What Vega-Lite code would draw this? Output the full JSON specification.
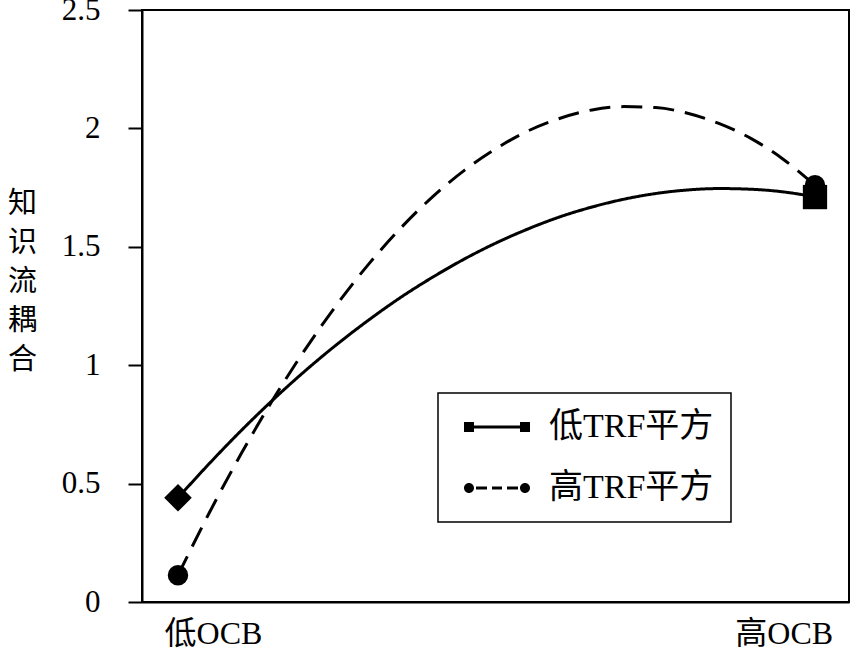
{
  "$schema": "https://vega.github.io/schema/vega-lite/v6.json",
  "width": 707,
  "height": 592,
  "autosize": "none",
  "padding": {"left": 142, "top": 10, "right": 3, "bottom": 48},
  "background": "white",
  "config": {
    "font": "Liberation Serif, Noto Sans CJK SC",
    "view": {"stroke": "black", "strokeWidth": 2},
    "legend": {"strokeColor": "black", "strokeWidth": 1.5},
    "axis": {
      "grid": false,
      "domainColor": "black",
      "domainWidth": 2,
      "labelColor": "black",
      "labelFont": "Liberation Serif, Noto Sans CJK SC",
      "labelFontSize": 31,
      "tickColor": "black",
      "tickWidth": 2,
      "titleColor": "black",
      "titleFont": "Liberation Serif, Noto Sans CJK SC",
      "titleFontWeight": "normal"
    }
  },
  "datasets": {
    "curves": [
      {"series": "低TRF平方", "t": 0.00, "value": 0.440},
      {"series": "低TRF平方", "t": 0.05, "value": 0.587},
      {"series": "低TRF平方", "t": 0.10, "value": 0.726},
      {"series": "低TRF平方", "t": 0.15, "value": 0.856},
      {"series": "低TRF平方", "t": 0.20, "value": 0.977},
      {"series": "低TRF平方", "t": 0.25, "value": 1.089},
      {"series": "低TRF平方", "t": 0.30, "value": 1.192},
      {"series": "低TRF平方", "t": 0.35, "value": 1.287},
      {"series": "低TRF平方", "t": 0.40, "value": 1.372},
      {"series": "低TRF平方", "t": 0.45, "value": 1.449},
      {"series": "低TRF平方", "t": 0.50, "value": 1.517},
      {"series": "低TRF平方", "t": 0.55, "value": 1.576},
      {"series": "低TRF平方", "t": 0.60, "value": 1.627},
      {"series": "低TRF平方", "t": 0.65, "value": 1.668},
      {"series": "低TRF平方", "t": 0.70, "value": 1.701},
      {"series": "低TRF平方", "t": 0.75, "value": 1.725},
      {"series": "低TRF平方", "t": 0.80, "value": 1.740},
      {"series": "低TRF平方", "t": 0.85, "value": 1.746},
      {"series": "低TRF平方", "t": 0.90, "value": 1.743},
      {"series": "低TRF平方", "t": 0.95, "value": 1.732},
      {"series": "低TRF平方", "t": 1.00, "value": 1.711},
      {"series": "高TRF平方", "t": 0.00, "value": 0.113},
      {"series": "高TRF平方", "t": 0.05, "value": 0.381},
      {"series": "高TRF平方", "t": 0.10, "value": 0.630},
      {"series": "高TRF平方", "t": 0.15, "value": 0.859},
      {"series": "高TRF平方", "t": 0.20, "value": 1.068},
      {"series": "高TRF平方", "t": 0.25, "value": 1.258},
      {"series": "高TRF平方", "t": 0.30, "value": 1.429},
      {"series": "高TRF平方", "t": 0.35, "value": 1.580},
      {"series": "高TRF平方", "t": 0.40, "value": 1.712},
      {"series": "高TRF平方", "t": 0.45, "value": 1.824},
      {"series": "高TRF平方", "t": 0.50, "value": 1.916},
      {"series": "高TRF平方", "t": 0.55, "value": 1.990},
      {"series": "高TRF平方", "t": 0.60, "value": 2.043},
      {"series": "高TRF平方", "t": 0.65, "value": 2.078},
      {"series": "高TRF平方", "t": 0.70, "value": 2.092},
      {"series": "高TRF平方", "t": 0.75, "value": 2.088},
      {"series": "高TRF平方", "t": 0.80, "value": 2.064},
      {"series": "高TRF平方", "t": 0.85, "value": 2.020},
      {"series": "高TRF平方", "t": 0.90, "value": 1.957},
      {"series": "高TRF平方", "t": 0.95, "value": 1.870},
      {"series": "高TRF平方", "t": 1.00, "value": 1.760}
    ],
    "markers": [
      {"series": "低TRF平方", "t": 0, "value": 0.44, "marker": "diamond"},
      {"series": "低TRF平方", "t": 1, "value": 1.71, "marker": "square"},
      {"series": "高TRF平方", "t": 0, "value": 0.113, "marker": "circle"},
      {"series": "高TRF平方", "t": 1, "value": 1.76, "marker": "circle"}
    ]
  },
  "encoding": {
    "x": {
      "field": "t",
      "type": "quantitative",
      "scale": {"domain": [-0.0565, 1.0534], "nice": false, "zero": false},
      "axis": {
        "values": [0.055, 0.951],
        "labelExpr": "datum.value < 0.5 ? '低OCB' : '高OCB'",
        "ticks": false,
        "labelFontSize": 32,
        "labelPadding": 16,
        "labelFlush": false,
        "labelOverlap": false,
        "title": null
      }
    },
    "y": {
      "field": "value",
      "type": "quantitative",
      "scale": {"domain": [0, 2.5], "nice": false, "zero": false},
      "axis": {
        "values": [0, 0.5, 1, 1.5, 2, 2.5],
        "labelExpr": "'' + datum.value",
        "tickSize": 14,
        "labelPadding": 28,
        "title": ["知", "识", "流", "耦", "合"],
        "titleAngle": 0,
        "titleFontSize": 29,
        "titleLineHeight": 39,
        "titleX": -120,
        "titleY": 193,
        "titleAlign": "center",
        "titleBaseline": "middle"
      }
    }
  },
  "resolve": {
    "scale": {"shape": "independent", "size": "independent"},
    "legend": {"shape": "independent"}
  },
  "layer": [
    {
      "data": {"name": "curves"},
      "mark": {"type": "line", "strokeWidth": 3, "interpolate": "monotone", "color": "black"},
      "encoding": {
        "detail": {"field": "series", "type": "nominal"},
        "strokeDash": {
          "field": "series",
          "type": "nominal",
          "scale": {"domain": ["低TRF平方", "高TRF平方"], "range": [[1, 0], [21, 11]]},
          "legend": null
        }
      }
    },
    {
      "data": {"name": "markers"},
      "mark": {"type": "point", "filled": true, "opacity": 1, "color": "black"},
      "encoding": {
        "shape": {
          "field": "marker",
          "type": "nominal",
          "scale": {"domain": ["diamond", "square", "circle"], "range": ["diamond", "square", "circle"]},
          "legend": null
        },
        "size": {
          "field": "marker",
          "type": "ordinal",
          "scale": {"domain": ["diamond", "square", "circle"], "range": [760, 420, 529]},
          "legend": null
        }
      }
    },
    {
      "data": {"name": "markers"},
      "mark": {"type": "point", "filled": true, "opacity": 0, "color": "black"},
      "encoding": {
        "shape": {
          "field": "series",
          "type": "nominal",
          "scale": {
            "domain": ["低TRF平方", "高TRF平方"],
            "range": [
              "M-0.533,-0.333L0.133,-0.333L0.133,-0.1L3.2,-0.1L3.2,-0.333L3.867,-0.333L3.867,0.333L3.2,0.333L3.2,0.1L0.133,0.1L0.133,0.333L-0.533,0.333Z",
              "M-0.533,0A0.333,0.333,0,1,0,0.133,0A0.333,0.333,0,1,0,-0.533,0ZM3.2,0A0.333,0.333,0,1,0,3.867,0A0.333,0.333,0,1,0,3.2,0ZM0.267,-0.1L1,-0.1L1,0.1L0.267,0.1ZM1.333,-0.1L2,-0.1L2,0.1L1.333,0.1ZM2.333,-0.1L3.067,-0.1L3.067,0.1L2.333,0.1Z"
            ]
          },
          "legend": {
            "title": null,
            "orient": "none",
            "legendX": 296,
            "legendY": 383,
            "strokeColor": "black",
            "fillColor": "white",
            "padding": 17,
            "labelFont": "Liberation Serif, Noto Sans CJK SC",
            "labelFontSize": 34,
            "labelLimit": 400,
            "labelColor": "black",
            "labelOffset": 60,
            "symbolSize": 900,
            "symbolOpacity": 1,
            "symbolFillColor": "black",
            "symbolStrokeWidth": 0,
            "rowPadding": 27
          }
        }
      }
    }
  ]
}
